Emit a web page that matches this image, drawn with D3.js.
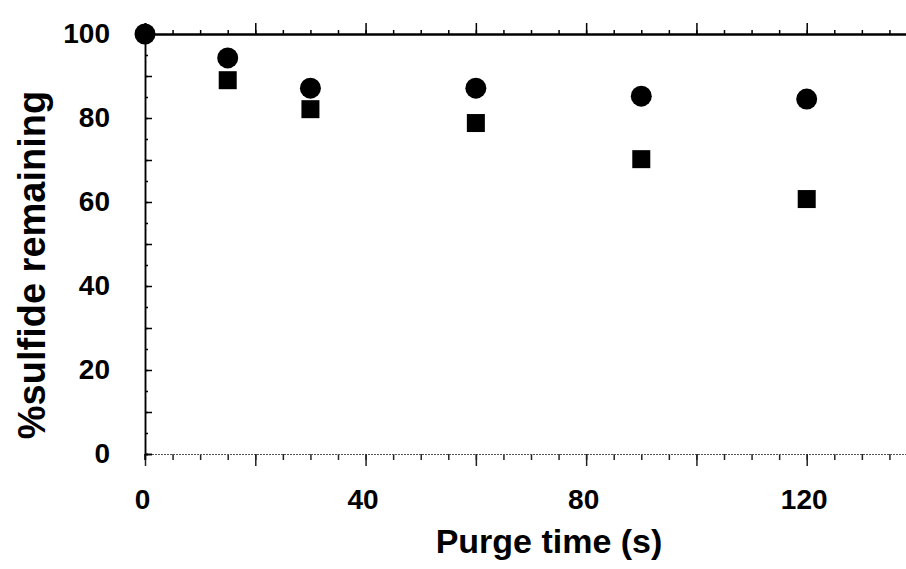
<!DOCTYPE html>
<html>
<head>
<meta charset="utf-8">
<script src="https://cdn.jsdelivr.net/npm/d3@7"></script>
<style>
body { margin: 0; background: #fff; }
text { font-family: "Liberation Sans", Arial, sans-serif; }
</style>
</head>
<body>
<div id="chart"></div>
<script>
// purge time (s) and % sulfide remaining
var purgeTime = [0, 15, 30, 60, 90, 120];
var circleVals = [100, 94.3, 87.1, 87.1, 85.2, 84.5];
var squareVals = [null, 89.0, 82.1, 78.8, 70.2, 60.7];   // square at t=0 sits under the circle
var xTickLabels = [0, 40, 80, 120];
var yTickLabels = [0, 20, 40, 60, 80, 100];

var W = 906, H = 569;
var svg = d3.select("#chart").append("svg")
    .attr("width", W).attr("height", H);
svg.append("rect").attr("width", W).attr("height", H).attr("fill", "#fff");

var x = d3.scaleLinear().domain([0, 140]).range([145, 917]);
var y = d3.scaleLinear().domain([0, 100]).range([454, 34]);

// top frame line, ticks pointing up
var top1 = svg.append("g").attr("transform", "translate(0," + y(100) + ")")
    .call(d3.axisTop(x).tickValues(d3.range(0, 141, 5)).tickSize(4).tickFormat(""));
var top2 = svg.append("g").attr("transform", "translate(0," + y(100) + ")")
    .call(d3.axisTop(x).tickValues(d3.range(0, 141, 20)).tickSize(11).tickFormat(""));
[top1, top2].forEach(function(g){
  g.select(".domain").attr("stroke", "#000").attr("stroke-width", 2);
  g.selectAll(".tick line").attr("stroke", "#000").attr("stroke-width", 1.5);
});

// bottom axis (lighter, dotted look on the scan)
var bot1 = svg.append("g").attr("transform", "translate(0," + y(0) + ")")
    .call(d3.axisBottom(x).tickValues(d3.range(0, 141, 5)).tickSize(6).tickFormat(""));
var bot2 = svg.append("g").attr("transform", "translate(0," + y(0) + ")")
    .call(d3.axisBottom(x).tickValues(d3.range(0, 141, 20)).tickSize(12).tickFormat(""));
[bot1, bot2].forEach(function(g){
  g.select(".domain").attr("stroke", "#555").attr("stroke-width", 1).attr("stroke-dasharray", "2,1");
  g.selectAll(".tick line").attr("stroke", "#222").attr("stroke-width", 1.5);
});

var xLab = svg.append("g").attr("transform", "translate(-3," + y(0) + ")")
    .call(d3.axisBottom(x).tickValues(xTickLabels).tickSize(0).tickPadding(35).tickFormat(d3.format("d")));
xLab.select(".domain").remove();
xLab.selectAll("text").attr("font-size", 28).attr("font-weight", "bold").attr("fill", "#000");

// left axis, ticks pointing inward
var left1 = svg.append("g").attr("transform", "translate(" + x(0) + ",0)")
    .call(d3.axisLeft(y).tickValues(d3.range(0, 101, 5)).tickSize(-3).tickFormat(""));
var left2 = svg.append("g").attr("transform", "translate(" + x(0) + ",0)")
    .call(d3.axisLeft(y).tickValues(d3.range(0, 101, 10)).tickSize(-7).tickFormat(""));
[left1, left2].forEach(function(g){
  g.select(".domain").attr("stroke", "#000").attr("stroke-width", 1.5);
  g.selectAll(".tick line").attr("stroke", "#000").attr("stroke-width", 1.5);
});
svg.append("line").attr("x1", x(0)).attr("x2", x(0))
   .attr("y1", y(0)).attr("y2", y(0) + 6).attr("stroke", "#000").attr("stroke-width", 1.5);

var yLab = svg.append("g").attr("transform", "translate(" + x(0) + ",0)")
    .call(d3.axisLeft(y).tickValues(yTickLabels).tickSize(0).tickPadding(35).tickFormat(d3.format("d")));
yLab.select(".domain").remove();
yLab.selectAll("text").attr("font-size", 28).attr("font-weight", "bold").attr("fill", "#000");

// markers
var sq = 18;
svg.append("g").selectAll("rect")
  .data(purgeTime.map(function(t, i){ return [t, squareVals[i]]; }).filter(function(d){ return d[1] != null; }))
  .join("rect")
    .attr("x", function(d){ return x(d[0]) - sq / 2; })
    .attr("y", function(d){ return y(d[1]) - sq / 2; })
    .attr("width", sq).attr("height", sq)
    .attr("fill", "#000");

svg.append("g").selectAll("circle")
  .data(purgeTime.map(function(t, i){ return [t, circleVals[i]]; }))
  .join("circle")
    .attr("cx", function(d){ return x(d[0]); })
    .attr("cy", function(d){ return y(d[1]); })
    .attr("r", 10.5)
    .attr("fill", "#000");

// axis titles
svg.append("text")
  .attr("x", 549).attr("y", 553)
  .attr("text-anchor", "middle")
  .attr("font-size", 34).attr("font-weight", "bold")
  .text("Purge time (s)");

svg.append("text")
  .attr("transform", "translate(45,265) rotate(-90)")
  .attr("text-anchor", "middle")
  .attr("font-size", 38).attr("font-weight", "bold")
  .text("%sulfide remaining");
</script>
</body>
</html>
